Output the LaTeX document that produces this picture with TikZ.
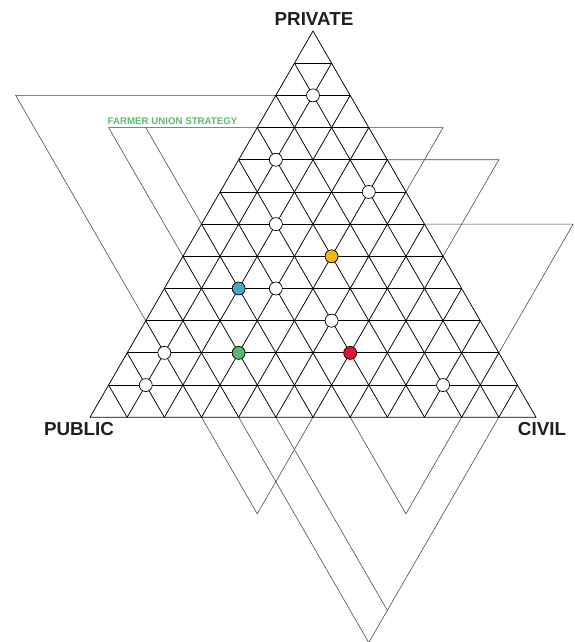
\documentclass[tikz,border=0pt]{standalone}
\usepackage{fontspec}
\setmainfont{Liberation Sans}
\definecolor{dotyellow}{HTML}{F2B70A}
\definecolor{dotblue}{HTML}{4EA3BE}
\definecolor{dotgreen}{HTML}{5BB56C}
\definecolor{dotred}{HTML}{E3112F}
\definecolor{labgreen}{HTML}{5DBB6E}
\definecolor{labdark}{HTML}{231F20}
\tikzset{
  gridline/.style={line width=0.75pt, black},
  outline/.style={line width=0.55pt, black!75, line join=miter},
  dot/.style={circle, draw=black, line width=0.7pt, inner sep=0pt, minimum size=13pt, fill=#1},
  corner/.style={font=\bfseries\fontsize{18.8}{20}\selectfont, text=labdark, inner sep=0pt},
}
\begin{document}
\begin{tikzpicture}
\useasboundingbox (0pt,0pt) rectangle (574pt,-642pt);
\begin{scope}[shift={(313pt,-31pt)}, x={(37.1667pt,0pt)}, y={(-18.58335pt,-32.187pt)}]
% lattice coordinates (j,k): k = row from apex, j = position in row
\coordinate (top) at (0,0);
\coordinate (bl) at (0,12);
\coordinate (br) at (12,12);
\coordinate (a20) at (0,2);
\coordinate (a2m7) at (-7,2);
\coordinate (a90) at (0,9);
\coordinate (a30) at (0,3);
\coordinate (a3m4) at (-4,3);
\coordinate (a70) at (0,7);
\coordinate (a3m3) at (-3,3);
\coordinate (a60) at (0,6);
\coordinate (a33) at (3,3);
\coordinate (a35) at (5,3);
\coordinate (a55) at (5,5);
\coordinate (a44) at (4,4);
\coordinate (a47) at (7,4);
\coordinate (a77) at (7,7);
\coordinate (a66) at (6,6);
\coordinate (a610) at (10,6);
\coordinate (a1010) at (10,10);
\coordinate (b3) at (3,12);
\coordinate (b4) at (4,12);
\coordinate (b5) at (5,12);
\coordinate (b6) at (6,12);
\coordinate (b7) at (7,12);
\coordinate (b10) at (10,12);
\coordinate (b11) at (11,12);
\coordinate (v156) at (6,15);
\coordinate (v1510) at (10,15);
\coordinate (v1811) at (11,18);
\coordinate (v1911) at (11,19);
% outer strategy outlines
\draw[outline] (a20) -- (a2m7) -- (a90);
\draw[outline] (a30) -- (a3m4) -- (a70);
\draw[outline] (a3m3) -- (a60);
\draw[outline] (a33) -- (a35) -- (a55);
\draw[outline] (a44) -- (a47) -- (a77);
\draw[outline] (a66) -- (a610) -- (a1010);
\draw[outline] (b3) -- (v156) -- (b6);
\draw[outline] (b4) -- (v1911) -- (b11);
\draw[outline] (b5) -- (v1811);
\draw[outline] (b7) -- (v1510) -- (b10);
% main triangle grid
\foreach \i in {1,...,11}{
  \draw[gridline] (0,\i) -- (\i,\i);
  \draw[gridline] (\i,\i) -- (\i,12);
  \draw[gridline] (0,\i) -- ({12-\i},12);
}
\draw[gridline, line join=miter] (top) -- (bl) -- (br) -- cycle;
% points
\node[dot=white] (n1) at (1,2) {};
\node[dot=white] (n2) at (1,4) {};
\node[dot=white] (n3) at (4,5) {};
\node[dot=white] (n4) at (2,6) {};
\node[dot=dotyellow] (n5) at (4,7) {};
\node[dot=dotblue] (n6) at (2,8) {};
\node[dot=white] (n7) at (3,8) {};
\node[dot=white] (n8) at (5,9) {};
\node[dot=dotgreen] (n9) at (3,10) {};
\node[dot=dotred] (n10) at (6,10) {};
\node[dot=white] (n11) at (1,10) {};
\node[dot=white] (n12) at (1,11) {};
\node[dot=white] (n13) at (9,11) {};
\end{scope}
% labels
\node[corner] (private) at (314pt,-19pt) {PRIVATE};
\node[corner] (public) at (79pt,-429pt) {PUBLIC};
\node[corner] (civil) at (542pt,-429pt) {CIVIL};
\node[font=\bfseries\fontsize{9.7}{10}\selectfont, text=labgreen, inner sep=0pt, anchor=base west] (fus) at (107.5pt,-124pt) {FARMER UNION STRATEGY};
\end{tikzpicture}
\end{document}
